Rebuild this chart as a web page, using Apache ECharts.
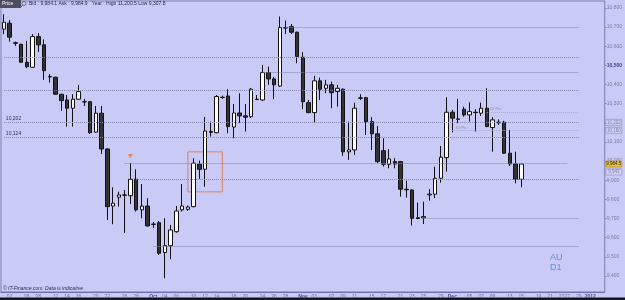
<!DOCTYPE html>
<html>
<head>
<meta charset="utf-8">
<title>AU D1</title>
<script src="https://cdn.jsdelivr.net/npm/echarts@6/dist/echarts.min.js"></script>
<style>
  html, body { margin: 0; padding: 0; background: #cacaf7; }
  #chart { width: 625px; height: 300px; }
</style>
</head>
<body>
<div id="chart"></div>
<script>
// trading sessions (Sun-Fri feed), Sep 2011 - Jan 2012
var dates = [
    '2011-09-01', '2011-09-02', '2011-09-04', '2011-09-05', '2011-09-06', '2011-09-07', '2011-09-08', '2011-09-09',
    '2011-09-11', '2011-09-12', '2011-09-13', '2011-09-14', '2011-09-15', '2011-09-16', '2011-09-18', '2011-09-19',
    '2011-09-20', '2011-09-21', '2011-09-22', '2011-09-23', '2011-09-25', '2011-09-26', '2011-09-27', '2011-09-28',
    '2011-09-29', '2011-09-30', '2011-10-02', '2011-10-03', '2011-10-04', '2011-10-05', '2011-10-06', '2011-10-07',
    '2011-10-09', '2011-10-10', '2011-10-11', '2011-10-12', '2011-10-13', '2011-10-14', '2011-10-16', '2011-10-17',
    '2011-10-18', '2011-10-19', '2011-10-20', '2011-10-21', '2011-10-23', '2011-10-24', '2011-10-25', '2011-10-26',
    '2011-10-27', '2011-10-28', '2011-10-30', '2011-10-31', '2011-11-01', '2011-11-02', '2011-11-03', '2011-11-04',
    '2011-11-06', '2011-11-07', '2011-11-08', '2011-11-09', '2011-11-10', '2011-11-11', '2011-11-13', '2011-11-14',
    '2011-11-15', '2011-11-16', '2011-11-17', '2011-11-18', '2011-11-20', '2011-11-21', '2011-11-22', '2011-11-23',
    '2011-11-24', '2011-11-25', '2011-11-27', '2011-11-28', '2011-11-29', '2011-11-30', '2011-12-01', '2011-12-02',
    '2011-12-04', '2011-12-05', '2011-12-06', '2011-12-07', '2011-12-08', '2011-12-09', '2011-12-11', '2011-12-12',
    '2011-12-13', '2011-12-14', '2011-12-15', '2011-12-16', '2011-12-18', '2011-12-19', '2011-12-20', '2011-12-21',
    '2011-12-22', '2011-12-23', '2011-12-27', '2011-12-28', '2011-12-29', '2011-12-30', '2012-01-02', '2012-01-03',
    '2012-01-04'
];

var opens = [
    10689, 10720, 10618, 10610, 10516, 10490, 10650, 10607, 10441, 10438, 10349, 10319, 10276, 10323, 10310, 10310,
    10151, 10250, 10063, 9765, 9811, 9823, 9819, 9905, 9745, 9765, 9671, 9678, 9522, 9558, 9631, 9745,
    9748, 9762, 9983, 9957, 10155, 10148, 10333, 10340, 10178, 10251, 10236, 10232, 10323, 10319, 10462, 10429,
    10392, 10697, 10702, 10673, 10542, 10305, 10253, 10419, 10380, 10398, 10363, 10375, 10048, 10058, 10330, 10331,
    10206, 10142, 10054, 9983, 9997, 9997, 9853, 9849, 9704, 9703, 9823, 9827, 9910, 10018, 10255, 10218,
    10271, 10241, 10255, 10250, 10276, 10175, 10203, 10203, 10041, 9985, 9905
];
var closes = [
    10725, 10647, 10615, 10516, 10493, 10650, 10607, 10472, 10439, 10349, 10316, 10276, 10323, 10363, 10309, 10148,
    10250, 10063, 9762, 9780, 9823, 9822, 9905, 9745, 9765, 9661, 9669, 9518, 9558, 9640, 9739, 9765,
    9760, 9989, 9957, 10157, 10150, 10337, 10332, 10180, 10251, 10236, 10229, 10375, 10321, 10462, 10429, 10398,
    10697, 10695, 10673, 10546, 10310, 10253, 10419, 10375, 10398, 10357, 10380, 10048, 10058, 10276, 10328, 10206,
    10142, 9997, 9983, 10011, 9985, 9853, 9850, 9701, 9700, 9710, 9827, 9910, 10020, 10255, 10224, 10220,
    10241, 10258, 10253, 10276, 10180, 10215, 10200, 10041, 9985, 9905, 9984.5
];
var highs = [
    10767, 10737, 10624, 10612, 10628, 10663, 10668, 10636, 10455, 10440, 10351, 10345, 10349, 10398, 10325, 10312,
    10288, 10288, 10066, 9863, 9840, 9849, 9989, 9957, 9880, 9806, 9682, 9687, 9701, 9666, 9765, 9880,
    9768, 10015, 10002, 10230, 10206, 10345, 10342, 10375, 10298, 10354, 10298, 10382, 10345, 10502, 10493, 10439,
    10755, 10734, 10716, 10676, 10569, 10319, 10445, 10436, 10424, 10415, 10398, 10380, 10206, 10305, 10349, 10335,
    10229, 10183, 10119, 10062, 10015, 9999, 9898, 9852, 9783, 9788, 9853, 9971, 10079, 10333, 10267, 10325,
    10284, 10307, 10271, 10305, 10380, 10229, 10218, 10210, 10163, 10049, 9985
];
var lows = [
    10663, 10624, 10601, 10514, 10485, 10487, 10569, 10424, 10410, 10347, 10262, 10180, 10180, 10319, 10288, 10142,
    10148, 10037, 9692, 9670, 9762, 9624, 9776, 9736, 9701, 9658, 9650, 9509, 9388, 9487, 9626, 9736,
    9740, 9758, 9907, 9866, 10128, 10145, 10325, 10145, 10119, 10199, 10154, 10225, 10319, 10314, 10398, 10323,
    10387, 10664, 10664, 10511, 10271, 10250, 10201, 10319, 10354, 10276, 10284, 10027, 10006, 10032, 10319, 10136,
    10058, 9990, 9971, 9962, 9962, 9814, 9809, 9663, 9696, 9671, 9793, 9806, 9887, 9945, 10150, 10198,
    10232, 10206, 10154, 10236, 10177, 10049, 10189, 10038, 9974, 9884, 9863
];

// x tick labels
var labelDates = [
    '2011-09-02', '2011-09-06', '2011-09-08', '2011-09-12', '2011-09-14', '2011-09-16', '2011-09-20', '2011-09-22',
    '2011-09-26', '2011-09-28', '2011-10-02', '2011-10-04', '2011-10-06', '2011-10-10', '2011-10-12', '2011-10-14',
    '2011-10-18', '2011-10-20', '2011-10-24', '2011-10-26', '2011-10-28', '2011-11-01', '2011-11-03', '2011-11-07',
    '2011-11-09', '2011-11-11', '2011-11-15', '2011-11-17', '2011-11-21', '2011-11-23', '2011-11-25', '2011-11-29',
    '2011-12-01', '2011-12-05', '2011-12-07', '2011-12-09', '2011-12-13', '2011-12-15', '2011-12-19', '2011-12-21',
    '2011-12-23', '2011-12-27', '2011-12-29', '2012-01-02'
];
var labelTexts = [
    '02', '06', '08', '12', '14', '16', '20', '22', '26', '28', 'Oct', '04', '06', '10', '12', '14',
    '18', '20', '24', '26', '28', 'Nov', '03', '07', '09', '11', '15', '17', '21', '23', '25', '29',
    'Dec', '05', '07', '09', '13', '15', '19', '21', '23', '27', '29', '2012'
];

// y tick labels
var priceTicks = [9400, 9500, 9600, 9700, 9800, 9900, 10000, 10100, 10200, 10300, 10400, 10500, 10600, 10700, 10800];

// drawn support / resistance lines: level, first and last session
var levelValues = [10700, 10544, 10466, 10372, 10202, 10124, 9990, 9907, 9703, 9556];
var levelFrom = ['2011-10-28', '2011-09-01', '2011-10-24', '2011-09-01', '2011-09-01', '2011-09-01',
    '2011-09-26', '2011-09-28', '2011-11-25', '2011-10-02'];
var levelTo = ['2011-12-29', '2011-12-29', '2011-12-29', '2011-12-29', '2011-12-29', '2011-12-29',
    '2011-12-27', '2011-12-29', '2011-12-29', '2011-12-29'];
var levelTags = ['', '', '', '', '10,202', '10,124', '', '', '', ''];

// short "10 Pts" marks near the right
var ptsValues = [10257, 10160];
var ptsFrom = ['2011-12-08', '2011-12-01'];

// right-axis price boxes
var boxValues = [10202, 10160, 9984.5, 9943];
var boxTexts = ['10,202', '10,160', '9,984.5', '9,943'];

// annotations: orange box and arrow
var zoneDates = ['2011-10-09', '2011-10-16'];
var zoneValues = [10048, 9839];
var arrowDate = '2011-09-27';
var arrowValue = 10026;

function fmt(v) {
    return String(v).replace(/\B(?=(\d{3})+(?!\d))/g, ',');
}

var candles = [];
for (var i = 0; i < opens.length; i++) {
    candles.push([opens[i], closes[i], lows[i], highs[i]]);
}

var lines = [];
for (var j = 0; j < levelValues.length; j++) {
    lines.push([
        {
            coord: [levelFrom[j], levelValues[j]],
            label: {
                show: levelTags[j] !== '',
                formatter: levelTags[j],
                position: 'insideStartTop',
                distance: [2, 1],
                fontSize: 5,
                color: '#333355'
            }
        },
        { coord: [levelTo[j], levelValues[j]] }
    ]);
}
for (var k = 0; k < ptsValues.length; k++) {
    lines.push([
        {
            coord: [ptsFrom[k], ptsValues[k]],
            lineStyle: { color: '#a8a8cc', type: 'dotted' },
            label: { show: true, formatter: '10 Pts', position: 'insideStartTop', distance: [3, 1], fontSize: 4, color: '#8888aa' }
        },
        { coord: ['2011-12-29', ptsValues[k]] }
    ]);
}

var points = [{
    coord: [arrowDate, arrowValue],
    symbol: 'triangle',
    symbolRotate: 180,
    symbolSize: [5, 4],
    itemStyle: { color: '#e8835a' },
    label: { show: false }
}];
for (var b = 0; b < boxValues.length; b++) {
    var current = boxValues[b] === closes[closes.length - 1];
    points.push({
        coord: [dates[dates.length - 1], boxValues[b]],
        symbol: 'rect',
        symbolSize: [16, 6],
        symbolOffset: [12, 0],
        itemStyle: {
            color: current ? '#e6c23c' : '#d4d4f8',
            borderColor: current ? '#b08a20' : '#8c8cba',
            borderWidth: 0.6
        },
        label: {
            show: true,
            position: 'inside',
            formatter: boxTexts[b],
            fontSize: 4.5,
            color: current ? '#222' : '#7777aa'
        }
    });
}

var chart = echarts.init(document.getElementById('chart'));
var options = {
    backgroundColor: '#cacaf7',
    animation: false,
    grid: {
        left: 1,
        right: 19,
        top: 1,
        bottom: 8,
        show: true,
        borderColor: '#7e7eb0',
        borderWidth: 1
    },
    xAxis: {
        type: 'category',
        data: dates,
        boundaryGap: true,
        axisLine: { lineStyle: { color: '#6e6ea8' } },
        axisTick: { show: false },
        axisLabel: {
            interval: 0,
            margin: 2,
            fontSize: 5,
            color: '#6a6aa8',
            formatter: function (value) {
                var n = labelDates.indexOf(value);
                if (n < 0) {
                    return '';
                }
                var t = labelTexts[n];
                return t.length > 2 ? '{m|' + t + '}' : t;
            },
            rich: {
                m: { fontSize: 5, fontWeight: 'bold', color: '#4a4a90' }
            }
        },
        splitLine: { show: false }
    },
    yAxis: {
        type: 'value',
        position: 'right',
        min: 9316,
        max: 10836,
        axisLine: { show: true, lineStyle: { color: '#8c8cbc' } },
        axisTick: { show: true, length: 2, customValues: priceTicks, lineStyle: { color: '#8c8cbc' } },
        axisLabel: {
            customValues: priceTicks,
            margin: 2,
            fontSize: 5,
            color: '#7a7aaa',
            formatter: function (v) {
                return v === 10500 ? '{b|' + fmt(v) + '}' : fmt(v);
            },
            rich: {
                b: { fontSize: 5, fontWeight: 'bold', color: '#3c3c88' }
            }
        },
        splitLine: { show: false }
    },
    series: [
        {
            name: 'AU',
            type: 'candlestick',
            data: candles,
            barWidth: 4,
            itemStyle: {
                color: '#ffffff',
                color0: '#333333',
                borderColor: '#111111',
                borderColor0: '#111111',
                borderWidth: 1
            },
            markLine: {
                silent: true,
                symbol: 'none',
                lineStyle: { color: '#8484ae', type: 'dotted', width: 1 },
                data: lines
            },
            markArea: {
                silent: true,
                itemStyle: { color: 'rgba(0,0,0,0)', borderColor: '#e0805a', borderWidth: 1 },
                data: [[
                    { coord: [zoneDates[0], zoneValues[0]] },
                    { coord: [zoneDates[1], zoneValues[1]] }
                ]]
            },
            markPoint: {
                silent: true,
                data: points
            }
        }
    ],
    graphic: [
        { type: 'rect', left: 0, top: 0, shape: { width: 21, height: 8 }, style: { fill: '#4e4e62' } },
        { type: 'text', left: 2, top: 1.5, style: { text: 'Price', fill: '#ffffff', font: '5px "Liberation Sans"' } },
        { type: 'circle', shape: { cx: 24, cy: 3.5, r: 2 }, style: { fill: 'none', stroke: '#555566', lineWidth: 0.8 } },
        { type: 'line', shape: { x1: 22.5, y1: 5, x2: 21, y2: 7 }, style: { stroke: '#555566', lineWidth: 1 } },
        {
            type: 'text', left: 29, top: 1.5,
            style: { text: 'Bid : 9,984.1 Ask : 9,984.9   Year : High 11,200.5 Low 9,307.8', fill: '#2a2a4a', font: '5px "Liberation Sans"' }
        },
        {
            type: 'text', left: 3, top: 286,
            style: { text: '\u00a9 IT-Finance.com. Data is indicative', fill: '#2a2a55', font: 'italic 5px "Liberation Sans"' }
        },
        { type: 'text', left: 550, top: 253, style: { text: 'AU', fill: '#5b8fd6', font: '9px "Liberation Sans"' } },
        { type: 'text', left: 550, top: 263, style: { text: 'D1', fill: '#5b8fd6', font: '9px "Liberation Sans"' } },
        { type: 'rect', left: 0, top: 297.5, shape: { width: 625, height: 3 }, style: { fill: '#141420' } }
    ]
};
chart.setOption(options);
</script>
</body>
</html>
